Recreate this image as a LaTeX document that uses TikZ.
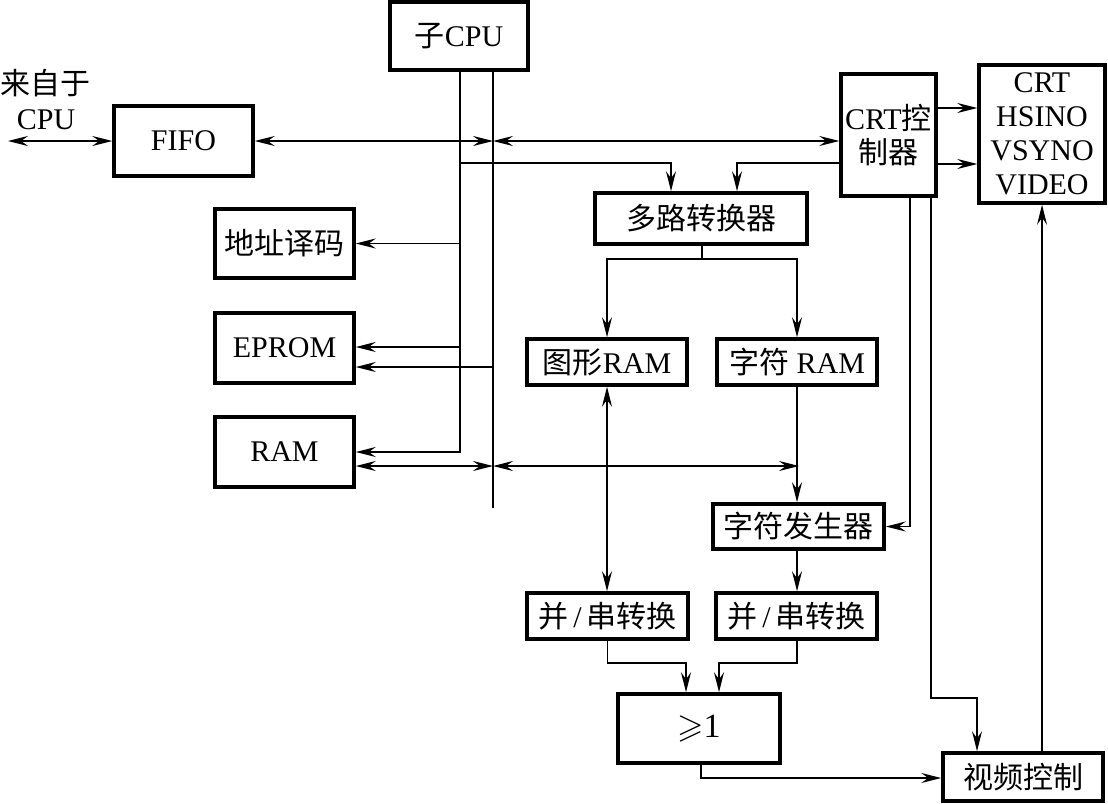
\documentclass[tikz,border=0pt]{standalone}
\usepackage{amssymb}
\usepackage{fontspec}
\setmainfont{Liberation Serif}
\newfontfamily\cjk{Noto Sans CJK SC}
\usetikzlibrary{arrows.meta}
\tikzset{
  blk/.style={draw, line width=3.5pt, inner sep=0pt, align=center,
    font=\fontsize{30}{34}\selectfont},
  wire/.style={line width=1.3pt},
}
\begin{document}
\begin{tikzpicture}[x=1pt, y=-1pt, >={Stealth[length=20pt,width=10pt,inset=7pt]}]
  \useasboundingbox (0,0) rectangle (1108,803);
  \path
    (459,36) node[blk, minimum width=138, minimum height=68] (cpu) {{\cjk 子}CPU}
    (183.5,141) node[blk, minimum width=139, minimum height=70] (fifo) {FIFO}
    (284.5,243.5) node[blk, minimum width=139, minimum height=69] (addr) {\cjk 地址译码}
    (284.5,348) node[blk, minimum width=139, minimum height=70] (eprom) {EPROM}
    (284.5,452) node[blk, minimum width=139, minimum height=70] (ram) {RAM}
    (701,218.5) node[blk, minimum width=212, minimum height=51] (mux) {\cjk 多路转换器}
    (888.5,135) node[blk, minimum width=95, minimum height=122] (crtc) {CRT{\cjk 控}\\{\cjk 制器}}
    (1042,134) node[blk, minimum width=126, minimum height=138] (crt) {CRT\\HSINO\\VSYNO\\VIDEO}
    (607,362) node[blk, minimum width=160, minimum height=46] (gram) {{\cjk 图形}RAM}
    (797,362) node[blk, minimum width=160, minimum height=46] (cram) {{\cjk 字符} RAM}
    (798.5,526.5) node[blk, minimum width=171, minimum height=45] (cgen) {\cjk 字符发生器}
    (607.5,616) node[blk, minimum width=161, minimum height=46] (ps1) {{\cjk 并}\,/\,{\cjk 串转换}}
    (796.5,616) node[blk, minimum width=161, minimum height=46] (ps2) {{\cjk 并}\,/\,{\cjk 串转换}}
    (699,728.5) node[blk, minimum width=162, minimum height=69, font=\fontsize{34}{38}\selectfont] (or) {$\geqslant$1}
    (1023,777) node[blk, minimum width=160, minimum height=48] (video) {\cjk 视频控制}
    (46,100) node[align=center, inner sep=0pt, font=\fontsize{30}{35}\selectfont] (src) {{\cjk 来自于}\\CPU};
  \coordinate (in) at (8,141);
  \coordinate (ba) at (460,70);
  \coordinate (bb) at (493,70);
  \coordinate (bbend) at (493,508);
  \coordinate (bf) at (493,141);
  \coordinate (bm) at (460,163);
  \coordinate (bd) at (460,243.5);
  \coordinate (be1) at (460,347);
  \coordinate (be2) at (493,367);
  \coordinate (br) at (493,466);
  \coordinate (cr) at (799,466);
  \coordinate (m1) at (671,0);
  \coordinate (m2) at (737,0);
  \coordinate (mx) at (702,259);
  \coordinate (h1) at (0,108);
  \coordinate (h2) at (0,164);
  \coordinate (c1) at (910,196);
  \coordinate (c2) at (931,196);
  \coordinate (v1) at (977,698);
  \coordinate (o1) at (686,663);
  \coordinate (o2) at (719,663);
  \coordinate (o3) at (701,778);
  \begin{scope}[wire]
    \draw[<->] (in) -- (fifo.west);
    \draw[<->] (fifo.east) -- (bf);
    \draw[<->] (crtc.west |- bf) -- (bf);
    \draw[->] (ba) |- (ram.east);
    \draw (bb) -- (bbend);
    \draw[->] (bm) -| (mux.north -| m1);
    \draw[->] (crtc.west |- bm) -| (mux.north -| m2);
    \draw[->] (crtc.east |- h1) -- (crt.west |- h1);
    \draw[->] (crtc.east |- h2) -- (crt.west |- h2);
    \draw[->] (bd) -- (addr.east);
    \draw[->] (be1) -- (eprom.east |- be1);
    \draw[->] (be2) -- (eprom.east |- be2);
    \draw[<->] (ram.east |- br) -- (br);
    \draw[<->] (br) -- (cr);
    \draw (mux.south -| mx) -- (mx);
    \draw[->] (mx) -| (gram.north);
    \draw[->] (mx) -| (cram.north);
    \draw[<->] (gram.south) -- (ps1.north -| gram.south);
    \draw[->] (cram.south) -- (cgen.north -| cram.south);
    \draw[->] (cgen.south -| cram.south) -- (ps2.north -| cram.south);
    \draw[->] (c1) |- (cgen.east);
    \draw[->] (c2) |- (v1) -- (video.north -| v1);
    \draw[->] (ps1.south) |- (o1) -- (or.north -| o1);
    \draw[->] (ps2.south -| cram.south) |- (o2) -- (or.north -| o2);
    \draw[->] (or.south -| o3) -- (o3) -- (video.west |- o3);
    \draw[->] (video.north -| crt.south) -- (crt.south);
  \end{scope}
\end{tikzpicture}
\end{document}
